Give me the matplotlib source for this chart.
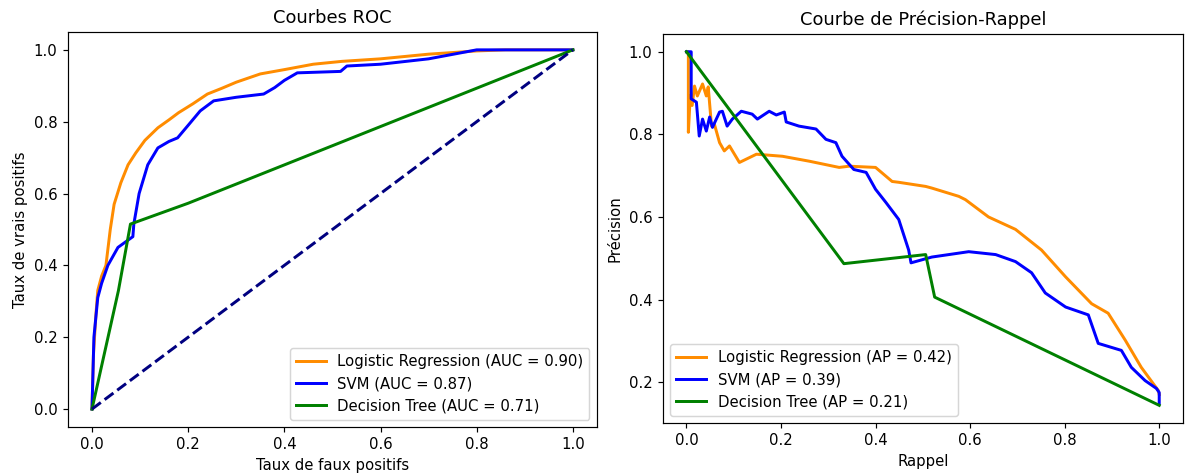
import matplotlib
matplotlib.use("Agg")
from matplotlib import pyplot as plt

# ROC curves (fpr, tpr)
lr_fpr = [0.0, 0.003, 0.008, 0.012, 0.02, 0.029, 0.038, 0.046, 0.06, 0.075, 0.091, 0.11, 0.137, 0.16, 0.18, 0.21, 0.24, 0.27, 0.3, 0.35, 0.4, 0.46, 0.52, 0.6, 0.7, 0.8, 0.86, 1.0]
lr_tpr = [0.0, 0.15, 0.26, 0.33, 0.37, 0.40, 0.50, 0.57, 0.63, 0.68, 0.713, 0.748, 0.783, 0.805, 0.825, 0.85, 0.877, 0.893, 0.91, 0.933, 0.945, 0.96, 0.968, 0.975, 0.988, 0.997, 1.0, 1.0]

svm_fpr = [0.0, 0.004, 0.012, 0.02, 0.033, 0.054, 0.085, 0.087, 0.098, 0.116, 0.137, 0.16, 0.178, 0.2, 0.225, 0.253, 0.3, 0.357, 0.38, 0.40, 0.427, 0.517, 0.53, 0.6, 0.7, 0.8, 1.0]
svm_tpr = [0.0, 0.2, 0.31, 0.35, 0.40, 0.45, 0.48, 0.515, 0.60, 0.68, 0.727, 0.745, 0.755, 0.79, 0.83, 0.858, 0.868, 0.877, 0.895, 0.915, 0.936, 0.94, 0.955, 0.96, 0.975, 1.0, 1.0]

dt_fpr = [0.0, 0.055, 0.08, 0.2, 1.0]
dt_tpr = [0.0, 0.33, 0.515, 0.573, 1.0]

# Precision-recall curves (recall, precision)
lr_rec = [0.0, 0.004, 0.004, 0.008, 0.012, 0.017, 0.023, 0.034, 0.042, 0.046, 0.053, 0.059, 0.07, 0.08, 0.091, 0.112, 0.148, 0.203, 0.26, 0.323, 0.344, 0.40, 0.435, 0.449, 0.506, 0.519, 0.576, 0.59, 0.639, 0.696, 0.751, 0.802, 0.857, 0.892, 0.928, 0.962, 0.998, 1.0]
lr_prec = [1.0, 1.0, 0.805, 0.893, 0.87, 0.917, 0.893, 0.922, 0.893, 0.915, 0.82, 0.825, 0.78, 0.76, 0.772, 0.732, 0.752, 0.747, 0.735, 0.72, 0.723, 0.72, 0.686, 0.684, 0.674, 0.67, 0.65, 0.642, 0.60, 0.57, 0.52, 0.455, 0.39, 0.367, 0.302, 0.236, 0.18, 0.17]

svm_rec = [0.0, 0.01, 0.01, 0.021, 0.027, 0.034, 0.042, 0.049, 0.055, 0.07, 0.076, 0.086, 0.097, 0.116, 0.139, 0.15, 0.175, 0.19, 0.207, 0.211, 0.238, 0.274, 0.295, 0.316, 0.329, 0.354, 0.38, 0.40, 0.422, 0.449, 0.47, 0.475, 0.519, 0.597, 0.654, 0.696, 0.73, 0.759, 0.802, 0.85, 0.871, 0.92, 0.941, 0.97, 0.994, 1.0, 1.0]
svm_prec = [1.0, 1.0, 0.886, 0.878, 0.796, 0.837, 0.808, 0.842, 0.817, 0.854, 0.856, 0.82, 0.837, 0.856, 0.849, 0.837, 0.856, 0.847, 0.854, 0.83, 0.82, 0.813, 0.788, 0.78, 0.747, 0.715, 0.708, 0.667, 0.635, 0.594, 0.52, 0.489, 0.503, 0.516, 0.509, 0.492, 0.465, 0.416, 0.382, 0.363, 0.294, 0.277, 0.236, 0.204, 0.185, 0.175, 0.148]

dt_rec = [0.0, 0.333, 0.506, 0.525, 1.0]
dt_prec = [1.0, 0.487, 0.509, 0.406, 0.144]

auc_lr, auc_svm, auc_dt = 0.90, 0.87, 0.71
ap_lr, ap_svm, ap_dt = 0.42, 0.39, 0.21

fig = plt.figure(figsize=(11.1215, 4.449), dpi=107)
ax1 = fig.add_axes([0.0571, 0.1029, 0.4445, 0.830])
ax2 = fig.add_axes([0.557, 0.1113, 0.437, 0.817])

ax1.plot(lr_fpr, lr_tpr, color='darkorange', lw=2, label='Logistic Regression (AUC = %0.2f)' % auc_lr)
ax1.plot(svm_fpr, svm_tpr, color='blue', lw=2, label='SVM (AUC = %0.2f)' % auc_svm)
ax1.plot(dt_fpr, dt_tpr, color='green', lw=2, label='Decision Tree (AUC = %0.2f)' % auc_dt)
ax1.plot([0, 1], [0, 1], color='navy', lw=2, linestyle='--')
ax1.set_xlabel('Taux de faux positifs')
ax1.set_ylabel('Taux de vrais positifs')
ax1.set_title('Courbes ROC')
ax1.legend(loc='lower right')

ax2.plot(lr_rec, lr_prec, color='darkorange', lw=2, label='Logistic Regression (AP = %0.2f)' % ap_lr)
ax2.plot(svm_rec, svm_prec, color='blue', lw=2, label='SVM (AP = %0.2f)' % ap_svm)
ax2.plot(dt_rec, dt_prec, color='green', lw=2, label='Decision Tree (AP = %0.2f)' % ap_dt)
ax2.set_xlabel('Rappel')
ax2.set_ylabel('Précision')
ax2.set_title('Courbe de Précision-Rappel')
ax2.legend(loc='lower left')

fig.savefig('out.png', dpi=107)
